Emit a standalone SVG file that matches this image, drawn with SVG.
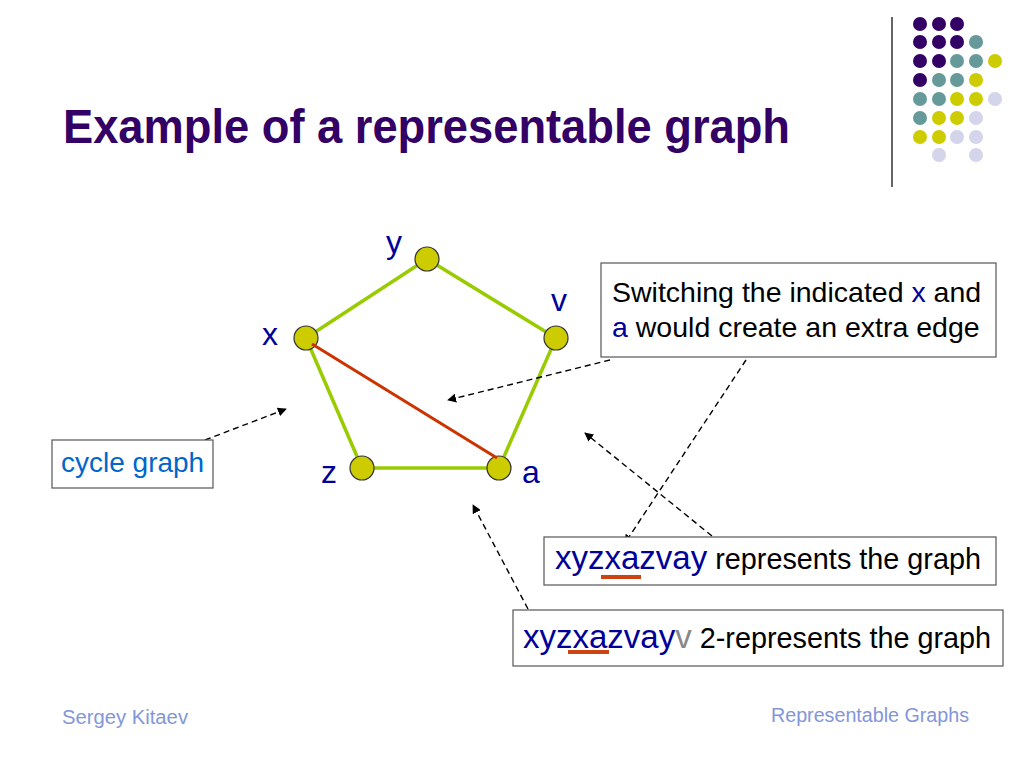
<svg xmlns="http://www.w3.org/2000/svg" width="1024" height="768" viewBox="0 0 1024 768">
<defs>
<style>
.t{font-family:"Liberation Sans",Arial,sans-serif}
.edge{stroke:#99cc00;stroke-width:3.5;fill:none}
.node{fill:#cccc00;stroke:#333;stroke-width:1.2}
.lbl{font-family:"Liberation Sans",Arial,sans-serif;font-size:32px;fill:#000099}
.box{fill:#fff;stroke:#555;stroke-width:1.2}
.dash{stroke:#000;stroke-width:1.4;stroke-dasharray:6,4;fill:none;marker-end:url(#ah)}
.p{fill:#330066}.g{fill:#669999}.y{fill:#cccc00}.l{fill:#d4d4ea}
.ul{stroke:#cc4411;stroke-width:4}
</style>
<marker id="ah" viewBox="0 0 10 10" refX="9" refY="5" markerWidth="9" markerHeight="9" markerUnits="userSpaceOnUse" orient="auto">
<path d="M0,0 L10,5 L0,10 Z" fill="#000"/>
</marker>
</defs>
<rect width="1024" height="768" fill="#fff"/>

<g id="decor">
<line x1="892" y1="17" x2="892" y2="187" stroke="#333" stroke-width="1.5"/>
<circle class="p" cx="920" cy="24" r="7"/><circle class="p" cx="939" cy="24" r="7"/><circle class="p" cx="957" cy="24" r="7"/>
<circle class="p" cx="920" cy="42" r="7"/><circle class="p" cx="939" cy="42" r="7"/><circle class="p" cx="957" cy="42" r="7"/><circle class="g" cx="976" cy="42" r="7"/>
<circle class="p" cx="920" cy="61" r="7"/><circle class="p" cx="939" cy="61" r="7"/><circle class="g" cx="957" cy="61" r="7"/><circle class="g" cx="976" cy="61" r="7"/><circle class="y" cx="995" cy="61" r="7"/>
<circle class="p" cx="920" cy="80" r="7"/><circle class="g" cx="939" cy="80" r="7"/><circle class="g" cx="957" cy="80" r="7"/><circle class="y" cx="976" cy="80" r="7"/>
<circle class="g" cx="920" cy="99" r="7"/><circle class="g" cx="939" cy="99" r="7"/><circle class="y" cx="957" cy="99" r="7"/><circle class="y" cx="976" cy="99" r="7"/><circle class="l" cx="995" cy="99" r="7"/>
<circle class="g" cx="920" cy="118" r="7"/><circle class="y" cx="939" cy="118" r="7"/><circle class="y" cx="957" cy="118" r="7"/><circle class="l" cx="976" cy="118" r="7"/>
<circle class="y" cx="920" cy="137" r="7"/><circle class="y" cx="939" cy="137" r="7"/><circle class="l" cx="957" cy="137" r="7"/><circle class="l" cx="976" cy="137" r="7"/>
<circle class="l" cx="939" cy="155" r="7"/><circle class="l" cx="976" cy="155" r="7"/>
</g>

<text id="title" class="t" x="63" y="143" font-size="48" font-weight="bold" fill="#330066" textLength="727" lengthAdjust="spacingAndGlyphs">Example of a representable graph</text>

<g id="connectors">
<line class="edge" x1="427" y1="259" x2="306" y2="338"/>
<line class="edge" x1="427" y1="259" x2="556" y2="338"/>
<line class="edge" x1="556" y1="338" x2="499" y2="468"/>
<line class="edge" x1="499" y1="468" x2="362" y2="468"/>
<line class="edge" x1="362" y1="468" x2="306" y2="338"/>
<path class="dash" d="M205,440 L286,409"/>
<path class="dash" d="M610,360 L448,400"/>
<path class="dash" d="M746,360 L625,543"/>
<path class="dash" d="M712,536 L585,433"/>
<path class="dash" d="M528,609 L473,505"/>
</g>

<g id="node-y"><circle class="node" cx="427" cy="259" r="12"/><text class="lbl" x="386" y="253">y</text></g>
<g id="node-v"><circle class="node" cx="556" cy="338" r="12"/><text class="lbl" x="551" y="311">v</text></g>
<g id="node-x"><circle class="node" cx="306" cy="338" r="12"/><text class="lbl" x="262" y="345">x</text></g>
<g id="node-z"><circle class="node" cx="362" cy="468" r="12"/><text class="lbl" x="321" y="483">z</text></g>
<g id="node-a"><circle class="node" cx="499" cy="468" r="12"/><text class="lbl" x="522" y="483">a</text></g>

<g id="red-edge"><line x1="312" y1="344" x2="497" y2="458" stroke="#cc3300" stroke-width="3"/></g>

<g id="note-switch">
<rect class="box" x="601" y="263" width="395" height="94"/>
<text class="t" x="612" y="302" font-size="28.5" fill="#000">Switching the indicated <tspan fill="#000099">x</tspan> and</text>
<text class="t" x="612" y="337" font-size="28.5" fill="#000"><tspan fill="#000099">a</tspan> would create an extra edge</text>
</g>

<g id="note-cycle">
<rect class="box" x="52" y="440" width="161" height="48"/>
<text class="t" x="61" y="472" font-size="28" fill="#0066cc">cycle graph</text>
</g>

<g id="note-represents">
<rect class="box" x="544" y="537" width="452" height="48"/>
<text class="t" x="555" y="569" font-size="28.8" fill="#000"><tspan font-size="33" fill="#000099">xyzxazvay</tspan> represents the graph</text>
<line class="ul" x1="601" y1="577" x2="641" y2="577"/>
</g>

<g id="note-2represents">
<rect class="box" x="513" y="610" width="490" height="56"/>
<text class="t" x="523" y="648" font-size="28.8" fill="#000"><tspan font-size="33" fill="#000099">xyzxazvay</tspan><tspan font-size="33" fill="#888888">v</tspan> 2-represents the graph</text>
<line class="ul" x1="568" y1="652" x2="609" y2="652"/>
</g>

<text class="t" x="62" y="724" font-size="20" fill="#8496d8" textLength="126" lengthAdjust="spacingAndGlyphs">Sergey Kitaev</text>
<text class="t" x="771" y="722" font-size="20" fill="#8496d8" textLength="198" lengthAdjust="spacingAndGlyphs">Representable Graphs</text>
</svg>
